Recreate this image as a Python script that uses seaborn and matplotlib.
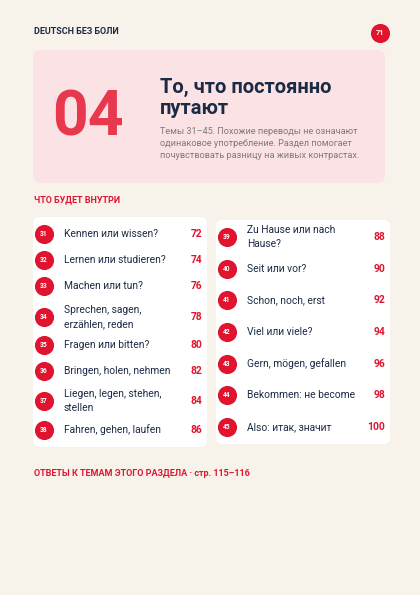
import matplotlib
matplotlib.use("Agg")
import matplotlib.pyplot as plt
import seaborn as sns
from matplotlib.patches import FancyBboxPatch

sns.set_theme(style="white")
plt.rcParams['font.family'] = ['Roboto', 'DejaVu Sans']

header = "DEUTSCH БЕЗ БОЛИ"
page_no = "71"
chapter = "04"
title_lines = ["То, что постоянно", "путают"]
body_lines = ["Темы 31–45. Похожие переводы не означают",
              "одинаковое употребление. Раздел помогает",
              "почувствовать разницу на живых контрастах."]
section = "ЧТО БУДЕТ ВНУТРИ"
footer = "ОТВЕТЫ К ТЕМАМ ЭТОГО РАЗДЕЛА · стр. 115–116"

left_nums = ["31", "32", "33", "34", "35", "36", "37", "38"]
left_titles = ["Kennen или wissen?", "Lernen или studieren?", "Machen или tun?",
               "Sprechen, sagen,\nerzählen, reden", "Fragen или bitten?",
               "Bringen, holen, nehmen", "Liegen, legen, stehen,\nstellen",
               "Fahren, gehen, laufen"]
left_pages = ["72", "74", "76", "78", "80", "82", "84", "86"]
right_nums = ["39", "40", "41", "42", "43", "44", "45"]
right_titles = ["Zu Hause или nach\nHause?", "Seit или vor?", "Schon, noch, erst",
                "Viel или viele?", "Gern, mögen, gefallen", "Bekommen: не become",
                "Also: итак, значит"]
right_pages = ["88", "90", "92", "94", "96", "98", "100"]

RED = "#e0142f"
NAVY = "#1b2a45"
BG = "#f8f3ea"

fig = plt.figure(figsize=(4.2, 5.95), dpi=100, facecolor=BG)
ax = fig.add_axes([0, 0, 1, 1])
ax.set_xlim(0, 420)
ax.set_ylim(595, 0)
ax.axis("off")
ax.set_facecolor(BG)

ax.text(34, 32, header, fontsize=6.5, fontweight="bold", color=NAVY, va="center")
ax.scatter([380], [33], s=190, color=RED, zorder=3, linewidths=0)
ax.text(380, 33, page_no, fontsize=5.3, fontweight="bold", color="white", ha="center", va="center", zorder=4)

ax.add_patch(FancyBboxPatch((36, 53), 346, 127, boxstyle="round,pad=3,rounding_size=8",
                            fc="#fbe3e5", ec="none"))
ax.text(52, 119, chapter, fontsize=45, fontweight="bold", color="#e8384d", va="center")
ax.text(160, 87, title_lines[0], fontsize=14.5, fontweight="bold", color=NAVY, va="center")
ax.text(160, 108, title_lines[1], fontsize=14.5, fontweight="bold", color=NAVY, va="center")
for i, l in enumerate(body_lines):
    ax.text(160, 131 + 12.5 * i, l, fontsize=6.6, color="#7d7a80", va="center")

ax.text(34, 200, section, fontsize=6.5, fontweight="bold", color=RED, va="center")

def column(x0, x1, ys, nums, titles, pages):
    ax.add_patch(FancyBboxPatch((x0 + 3, ys[0] - 14), x1 - x0 - 6, ys[-1] - ys[0] + 28,
                                boxstyle="round,pad=3,rounding_size=6", fc="white", ec="none"))
    ax.scatter([x0 + 11] * len(ys), ys, s=190, color=RED, zorder=3, linewidths=0)
    for y, n, t, p in zip(ys, nums, titles, pages):
        ax.text(x0 + 11, y, n, fontsize=4.8, fontweight="bold", color="white", ha="center", va="center", zorder=4)
        ax.text(x0 + 31, y, t, fontsize=7.4, color=NAVY, va="center", linespacing=1.45)
        ax.text(x1 - 5, y, p, fontsize=7.4, fontweight="bold", color=RED, ha="right", va="center")

column(33, 207, [234, 260, 286, 317, 345, 371, 401, 430], left_nums, left_titles, left_pages)
column(216, 390, [237, 269, 300, 332, 364, 395, 427], right_nums, right_titles, right_pages)

ax.text(34, 473, footer, fontsize=6.5, fontweight="bold", color=RED, va="center")

fig.savefig("out.png", dpi=100, facecolor=BG)
